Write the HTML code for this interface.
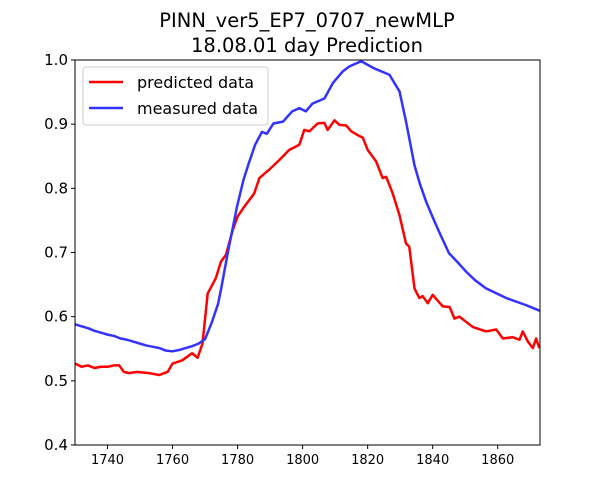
<!DOCTYPE html>
<html><head><meta charset="utf-8"><style>
body{margin:0;background:#fff;}
svg{display:block;font-family:"DejaVu Sans","Liberation Sans",sans-serif;}
</style></head><body>
<svg id="chart" width="600" height="500" viewBox="0 0 600 500">
<text x="307" y="27" text-anchor="middle" font-size="19.5">PINN_ver5_EP7_0707_newMLP</text>
<text x="307" y="52" text-anchor="middle" font-size="19.5">18.08.01 day Prediction</text>
<g id="plot"></g>
</svg>
<script>
const xTicks=[1740,1760,1780,1800,1820,1840,1860];
const yTicks=[0.4,0.5,0.6,0.7,0.8,0.9,1.0];
const measYears=[1730,1732,1734,1736,1738,1740,1742,1744,1746,1748,1750,1752,1754,1756,1758,1760,1762,1764,1766,1768,1770,1772,1774,1775,1777,1779.8,1781.8,1783.5,1785.4,1787.5,1789,1791,1794,1796.8,1799,1801,1803,1806.7,1809.3,1812.3,1814.4,1818,1822,1826.7,1829.8,1831.8,1834.4,1836,1838,1840,1842,1845,1848,1850.3,1853,1856.4,1862.6,1868.7,1873];
const measVals=[0.588,0.585,0.582,0.578,0.575,0.572,0.570,0.566,0.564,0.561,0.558,0.555,0.553,0.551,0.547,0.546,0.548,0.551,0.554,0.558,0.565,0.59,0.62,0.645,0.7,0.771,0.813,0.84,0.868,0.888,0.885,0.901,0.904,0.92,0.925,0.92,0.932,0.94,0.964,0.982,0.99,0.998,0.987,0.977,0.951,0.904,0.836,0.808,0.779,0.755,0.732,0.699,0.683,0.67,0.657,0.644,0.629,0.618,0.609];
const predYears=[1730,1732,1734,1736,1738,1740,1742,1743.6,1745,1746.7,1749,1752.8,1755.9,1758.5,1760,1763,1766,1767.7,1769.2,1770.8,1773.3,1774.9,1776.4,1778.5,1780,1782,1785.1,1786.7,1789.7,1792.8,1795.9,1799,1800.5,1802.1,1804.6,1806.7,1807.7,1809.8,1811.3,1813.4,1814.9,1816.9,1818.5,1820,1822.6,1824.6,1825.7,1827.7,1829.8,1831.8,1832.8,1834.4,1835.9,1836.9,1838.5,1840,1843.1,1845.2,1846.7,1848.2,1852.3,1856.4,1859.5,1861.6,1864.6,1866.7,1867.7,1869.3,1870.8,1871.8,1872.8];
const predVals=[0.527,0.522,0.524,0.52,0.522,0.522,0.524,0.524,0.514,0.512,0.514,0.512,0.509,0.514,0.527,0.532,0.543,0.536,0.558,0.636,0.66,0.686,0.696,0.735,0.756,0.771,0.792,0.816,0.829,0.844,0.86,0.868,0.891,0.889,0.901,0.902,0.891,0.906,0.899,0.898,0.889,0.883,0.879,0.86,0.842,0.816,0.818,0.792,0.758,0.714,0.709,0.644,0.629,0.632,0.621,0.634,0.616,0.615,0.597,0.6,0.584,0.577,0.58,0.566,0.568,0.564,0.577,0.561,0.551,0.566,0.551];
const L=75,R=540,T=60,B=445,X0=1730,X1=1873,Y0=0.4,Y1=1.0;
const sx=v=>L+(v-X0)/(X1-X0)*(R-L);
const sy=v=>B-(v-Y0)/(Y1-Y0)*(B-T);
const NS="http://www.w3.org/2000/svg";
const g=document.getElementById('plot');
function mk(t,a){const e=document.createElementNS(NS,t);for(const k in a)e.setAttribute(k,a[k]);g.appendChild(e);return e;}
xTicks.forEach(v=>{
 const t=mk('line',{x1:sx(v),x2:sx(v),y1:B,y2:B+4,stroke:'#000','stroke-width':1});
 
 
 const l=mk('text',{x:sx(v),y:B+19,'text-anchor':'middle','font-size':13});
 l.textContent=v;
 
 
});
yTicks.forEach(v=>{
 const t=mk('line',{x1:L-4,x2:L,y1:sy(v),y2:sy(v),stroke:'#000','stroke-width':1});
 
 
 const l=mk('text',{x:L-7,y:sy(v)+5,'text-anchor':'end','font-size':15});
 l.textContent=v.toFixed(1);
 
 
});
const cp=mk('clipPath',{id:'cp'});
const cr=document.createElementNS(NS,'rect');cr.setAttribute('x',L);cr.setAttribute('y',T);cr.setAttribute('width',R-L);cr.setAttribute('height',B-T);cp.appendChild(cr);
const sg=mk('g',{'clip-path':'url(#cp)'});
function lineC(xs,ys,color,name){
 const p=document.createElementNS(NS,'polyline');
 p.setAttribute('points',xs.map((x,i)=>sx(x)+','+sy(ys[i])).join(' '));
 p.setAttribute('fill','none');p.setAttribute('stroke',color);p.setAttribute('stroke-width','2.5');p.setAttribute('stroke-linejoin','round');
 
 
 sg.appendChild(p);
}
lineC(predYears,predVals,'#ff0000','predicted-line');
lineC(measYears,measVals,'#3333ff','measured-line');
const fr=mk('rect',{x:L,y:T,width:R-L,height:B-T,fill:'none',stroke:'#000','stroke-width':1});


const lg=mk('rect',{x:83,y:67,width:185,height:58,rx:3,fill:'#fff','fill-opacity':0.8,stroke:'#ccc'});


[['predicted data','#ff0000',82],['measured data','#3333ff',108]].forEach(([t,c,y])=>{
 const s=mk('line',{x1:89,x2:123,y1:y,y2:y,stroke:c,'stroke-width':2.5});
 
 
 const tx=mk('text',{x:137,y:y+6,'font-size':16});
 tx.textContent=t;
 
 
});
</script>
</body></html>
